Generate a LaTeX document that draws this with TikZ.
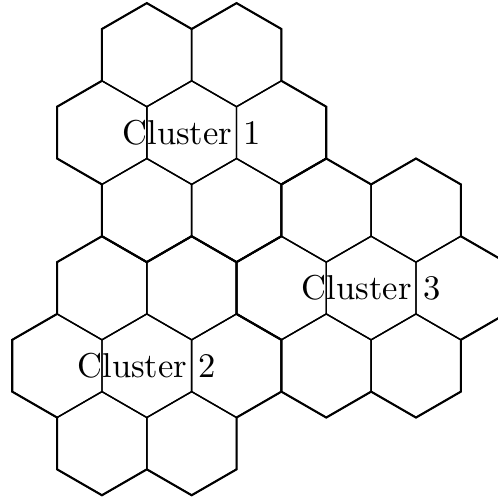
\documentclass[tikz,border=0pt]{standalone}
\usetikzlibrary{calc}

\begin{document}
\begin{tikzpicture}[
    cell/.style={draw, line width=0.4pt},
    border/.style={draw, semithick},
    clustername/.style={inner sep=1pt}
]
    \def\hexs{15pt}
    \def\hexw{25.98pt}
    \clip (-55.5pt,-105.8pt) rectangle (88.7pt,38.4pt);

    \coordinate (c1) at (0,0);
    \coordinate (c2) at (-12.99pt,-67.5pt);
    \coordinate (c3) at (51.96pt,-45pt);

    % seven cells per cluster
    \foreach \cl in {c1,c2,c3} {
        \foreach \a/\r in {0/0pt,0/\hexw,60/\hexw,120/\hexw,180/\hexw,240/\hexw,300/\hexw} {
            \draw[cell] (\cl) ++(\a:\r) ++(30:\hexs) -- ++(150:\hexs) -- ++(210:\hexs)
                -- ++(270:\hexs) -- ++(330:\hexs) -- ++(30:\hexs) -- cycle;
        }
    }

    % cluster borders
    \foreach \cl in {c1,c2,c3} {
        \draw[border] (\cl) ++(0:\hexw) ++(-90:\hexs)
            \foreach \a in {0,60,...,300} { -- ++(\a+30:\hexs) -- ++(\a+90:\hexs) -- ++(\a+150:\hexs) }
            -- cycle;
    }

    \node[clustername] (name1) at (c1) {Cluster 1};
    \node[clustername] (name2) at (c2) {Cluster 2};
    \node[clustername] (name3) at (c3) {Cluster 3};
\end{tikzpicture}
\end{document}
